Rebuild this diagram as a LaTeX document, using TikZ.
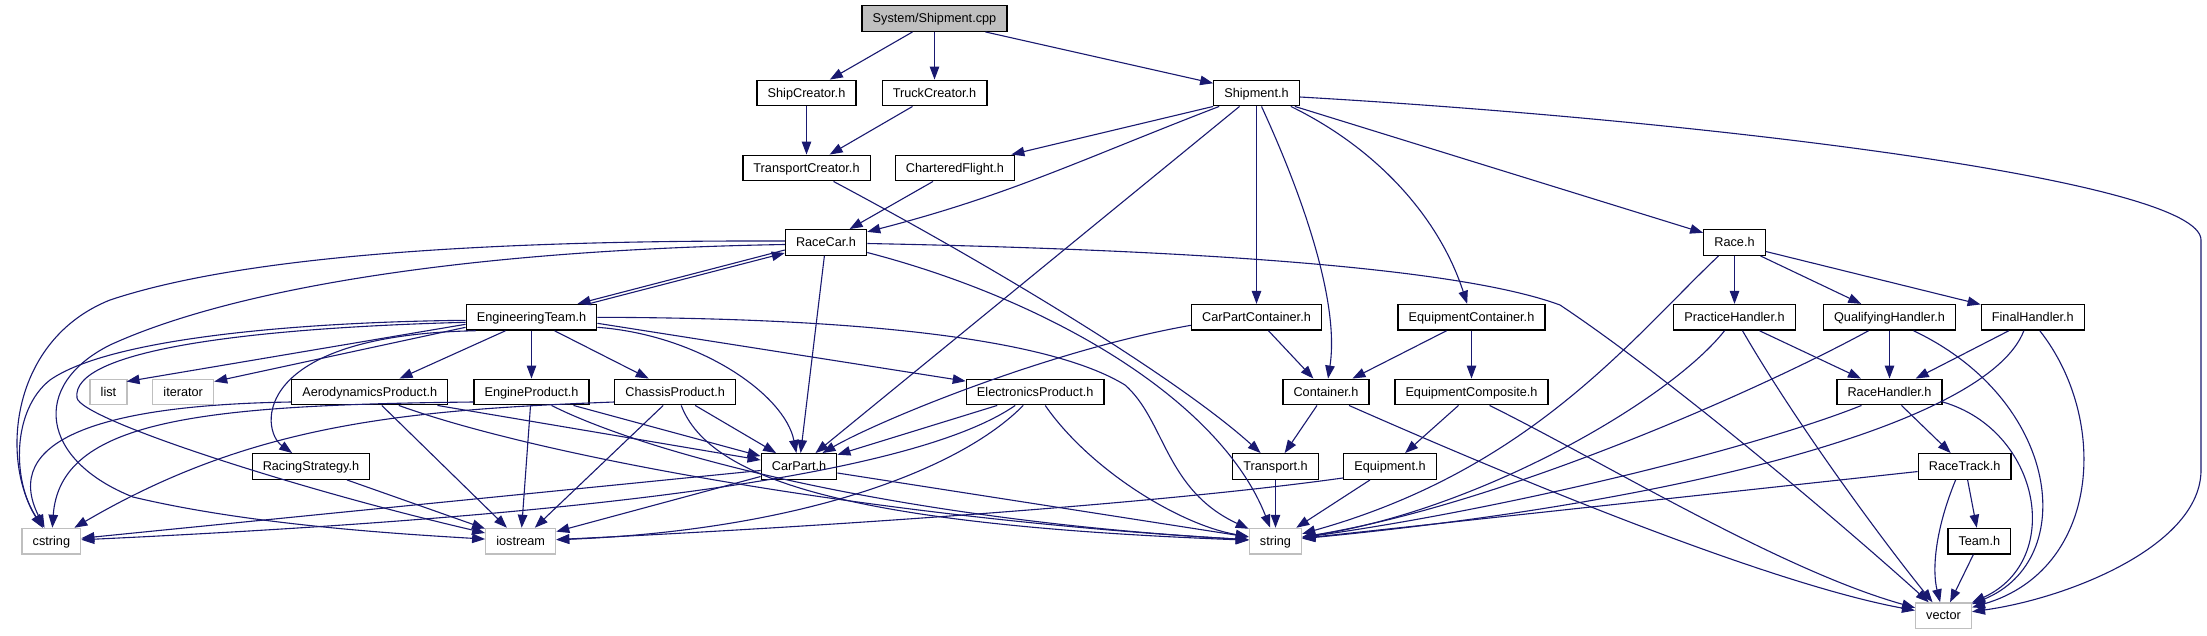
\documentclass[tikz,border=0pt]{standalone}
\usepackage{fontspec}
\setmainfont{Liberation Sans}
\usetikzlibrary{arrows.meta}
\definecolor{edgeblue}{HTML}{191970}
\definecolor{greyseventyfive}{HTML}{BFBFBF}
\begin{document}
\begin{tikzpicture}[x=1pt,y=-1pt,
  box/.style={draw=black,line width=1.3pt,fill=white,inner xsep=10.6pt,inner ysep=0pt,
    minimum height=25.6pt,text height=10.5pt,text depth=2pt,
    font=\fontsize{12.7}{14}\selectfont,text=black},
  ext/.style={box,draw=greyseventyfive},
  root/.style={box,fill=greyseventyfive},
  e/.style={draw=edgeblue,line width=1.1pt,-{Triangle[length=13pt,width=9.5pt]}}]
\fill[white] (0,0) rectangle (2207,635);
\useasboundingbox (0,0) rectangle (2207,635);

% nodes
\node[root] (cpp) at (934.5,18.5) {System/Shipment.cpp};
\node[box] (ship) at (806.5,93) {ShipCreator.h};
\node[box] (truck) at (934.5,93) {TruckCreator.h};
\node[box] (shiph) at (1256.5,93) {Shipment.h};
\node[box] (tc) at (806.5,168) {TransportCreator.h};
\node[box] (cf) at (955,168) {CharteredFlight.h};
\node[box] (racecar) at (826,242.5) {RaceCar.h};
\node[box] (race) at (1734.5,242.5) {Race.h};
\node[box] (et) at (531.5,317.3) {EngineeringTeam.h};
\node[box] (cpc) at (1256.5,317.3) {CarPartContainer.h};
\node[box] (ec) at (1471.5,317.3) {EquipmentContainer.h};
\node[box] (ph) at (1734.5,317.3) {PracticeHandler.h};
\node[box] (qh) at (1889.5,317.3) {QualifyingHandler.h};
\node[box] (fh) at (2032.8,317.3) {FinalHandler.h};
\node[ext] (list) at (108.5,392) {list};
\node[ext] (iter) at (183.2,392) {iterator};
\node[box] (aero) at (369.8,392) {AerodynamicsProduct.h};
\node[box] (eng) at (531.5,392) {EngineProduct.h};
\node[box] (chassis) at (675.2,392) {ChassisProduct.h};
\node[box] (elec) at (1035.2,392) {ElectronicsProduct.h};
\node[box] (cont) at (1326,392) {Container.h};
\node[box] (ecomp) at (1471.5,392) {EquipmentComposite.h};
\node[box] (rh) at (1889.5,392) {RaceHandler.h};
\node[box] (rs) at (311,466.5) {RacingStrategy.h};
\node[box] (carpart) at (799,466.5) {CarPart.h};
\node[box] (transport) at (1275.5,466.5) {Transport.h};
\node[box] (equip) at (1390,466.5) {Equipment.h};
\node[box] (rt) at (1964.6,466.5) {RaceTrack.h};
\node[ext] (cstr) at (51.4,541.2) {cstring};
\node[ext] (iost) at (520.7,541.2) {iostream};
\node[ext] (strg) at (1275.5,541.2) {string};
\node[box] (team) at (1979.3,541.2) {Team.h};
\node[ext] (vect) at (1943.5,615.7) {vector};

% System/Shipment.cpp
\draw[e] ([xshift=-22pt]cpp.south) -- (ship);
\draw[e] (cpp) -- (truck);
\draw[e] ([xshift=51pt]cpp.south) -- (shiph);
\draw[e] (ship) -- (tc);
\draw[e] ([xshift=-22pt]truck.south) -- (tc);
\draw[e] ([xshift=27pt]tc.south) .. controls (1000,270) and (1180,380) .. (transport);

% Shipment.h
\draw[e] (shiph.south west) -- (cf);
\draw[e] ([xshift=6pt]shiph.south west) .. controls (1080,160) and (1010,195) .. (racecar);
\draw[e] ([xshift=-17pt]shiph.south) -- (carpart);
\draw[e] (shiph) -- (cpc);
\draw[e] ([xshift=5pt]shiph.south) .. controls (1300,190) and (1340,300) .. (cont);
\draw[e] ([xshift=-9pt]shiph.south east) .. controls (1380,150) and (1440,220) .. (ec);
\draw[e] ([xshift=-5pt]shiph.south east) -- (race);
\draw[e] ([yshift=-4pt]shiph.east) .. controls (1700,120) and (2201,180) .. (2201,240) -- (2201,470) .. controls (2201,545) and (2070,598) .. (vect);

\draw[e] ([xshift=-22pt]cf.south) -- (racecar);

% RaceCar.h
\draw[e] ([yshift=-7.5pt]racecar.west) -- ([xshift=46pt]et.north);
\draw[e] ([xshift=57pt]et.north) -- ([yshift=-10.5pt]racecar.west);
\draw[e] (racecar) -- (carpart);
\draw[e] ([yshift=-10pt]racecar.east) .. controls (1050,300) and (1220,400) .. (strg);
\draw[e] ([yshift=-1pt]racecar.east) .. controls (1200,250) and (1460,268) .. (1560,305) .. controls (1680,385) and (1860,540) .. (vect);
\draw[e] ([yshift=1.5pt]racecar.west) .. controls (450,240) and (230,260) .. (110,300) .. controls (10,340) and (0,460) .. (cstr);
\draw[e] ([yshift=-2pt]racecar.west) .. controls (460,250) and (230,290) .. (110,345) .. controls (30,385) and (40,460) .. (133,497) .. controls (250,525) and (400,534) .. (iost);

% EngineeringTeam.h
\draw[e] ([yshift=-7pt]et.west) -- ([xshift=-1pt,yshift=-3pt]list.north east);
\draw[e] ([yshift=-10pt]et.west) -- ([yshift=-3pt]iter.north east);
\draw[e] ([xshift=-26pt]et.south) -- (aero);
\draw[e] (et) -- (eng);
\draw[e] ([xshift=23pt]et.south) -- (chassis);
\draw[e] ([yshift=-6pt]et.east) -- (elec);
\draw[e] ([yshift=-10pt]et.east) .. controls (700,335) and (785,395) .. (carpart);
\draw[e] (et.east) .. controls (900,318) and (1060,345) .. (1125,385) .. controls (1165,420) and (1165,490) .. (strg);
\draw[e] ([yshift=-3pt]et.west) .. controls (300,322) and (110,338) .. (50,380) .. controls (12,410) and (12,480) .. (cstr);
\draw[e] ([yshift=-5pt]et.west) .. controls (250,328) and (70,350) .. (77,398) .. controls (82,420) and (300,490) .. (iost);
\draw[e] ([xshift=10pt]et.south west) .. controls (250,335) and (260,430) .. (rs);

% AerodynamicsProduct.h
\draw[e] ([yshift=-10pt]aero.west) .. controls (100,405) and (0,440) .. (cstr);
\draw[e] ([xshift=12pt]aero.south) -- (iost);
\draw[e] ([xshift=29pt]aero.south) .. controls (550,460) and (900,520) .. (strg);
\draw[e] ([xshift=-11pt]aero.south east) -- (carpart);

% EngineProduct.h
\draw[e] ([yshift=-10pt]eng.west) .. controls (200,405) and (60,420) .. (cstr);
\draw[e] (eng) -- (iost);
\draw[e] ([xshift=20pt]eng.south) .. controls (650,455) and (900,520) .. (strg);
\draw[e] ([xshift=42pt]eng.south) -- (carpart);

% ChassisProduct.h
\draw[e] ([yshift=-10pt]chassis.west) .. controls (400,410) and (250,425) .. (cstr);
\draw[e] ([xshift=-12pt]chassis.south) -- (iost);
\draw[e] ([xshift=6pt]chassis.south) .. controls (710,480) and (850,525) .. (strg);
\draw[e] ([xshift=20pt]chassis.south) -- (carpart);

% ElectronicsProduct.h
\draw[e] ([xshift=-38pt]elec.south) -- (carpart);
\draw[e] ([xshift=-20pt]elec.south) .. controls (900,485) and (500,520) .. (cstr);
\draw[e] ([xshift=-12pt]elec.south) .. controls (960,470) and (800,530) .. (iost);
\draw[e] ([xshift=10pt]elec.south) .. controls (1090,470) and (1180,525) .. (strg);

% CarPart.h
\draw[e] ([yshift=-4pt]carpart.west) -- (cstr);
\draw[e] ([yshift=-10pt]carpart.west) -- (iost);
\draw[e] ([yshift=-6.5pt]carpart.east) -- (strg);

\draw[e] ([xshift=36pt]rs.south) -- (iost);

% containers
\draw[e] ([xshift=12pt]cpc.south) -- (cont);
\draw[e] ([yshift=-8pt]cpc.west) .. controls (1050,350) and (880,420) .. (carpart);
\draw[e] ([xshift=-9pt]cont.south) -- (transport);
\draw[e] ([xshift=23pt]cont.south) .. controls (1450,450) and (1750,580) .. (vect);
\draw[e] (transport) -- (strg);
\draw[e] ([xshift=-25pt]ec.south) -- (cont);
\draw[e] (ec) -- (ecomp);
\draw[e] ([xshift=-13pt]ecomp.south) -- (equip);
\draw[e] ([xshift=18pt]ecomp.south) .. controls (1600,460) and (1780,570) .. (vect);
\draw[e] ([xshift=-20pt]equip.south) -- (strg);
\draw[e] ([yshift=2pt]equip.south west) .. controls (1150,505) and (800,528) .. (iost);

% Race.h
\draw[e] (race) -- (ph);
\draw[e] ([xshift=26pt]race.south) -- (qh);
\draw[e] ([yshift=-9pt]race.east) -- (fh);
\draw[e] ([xshift=-16pt]race.south) .. controls (1630,340) and (1530,470) .. (strg);

% handlers
\draw[e] ([xshift=25pt]ph.south) -- (rh);
\draw[e] ([xshift=-10pt]ph.south) .. controls (1670,400) and (1480,510) .. (strg);
\draw[e] ([xshift=8pt]ph.south) .. controls (1800,430) and (1890,550) .. (vect);
\draw[e] (qh) -- (rh);
\draw[e] ([xshift=-21pt]qh.south) .. controls (1760,390) and (1500,505) .. (strg);
\draw[e] ([xshift=24pt]qh.south) .. controls (2060,400) and (2080,560) .. (vect);
\draw[e] ([xshift=-24pt]fh.south) -- (rh);
\draw[e] ([xshift=-9pt]fh.south) .. controls (1990,420) and (1700,500) .. (strg);
\draw[e] ([xshift=7pt]fh.south) .. controls (2110,420) and (2100,570) .. (vect);
\draw[e] ([xshift=12pt]rh.south) -- (rt);
\draw[e] ([xshift=-28pt]rh.south) .. controls (1750,450) and (1500,510) .. (strg);
\draw[e] ([yshift=-10pt]rh.east) .. controls (2040,430) and (2065,560) .. (vect);
\draw[e] ([xshift=3pt]rt.south) -- (team);
\draw[e] (rt) -- (strg);
\draw[e] ([xshift=-9pt]rt.south) .. controls (1935,530) and (1932,570) .. (vect);
\draw[e] ([xshift=-6pt]team.south) -- (vect);
\end{tikzpicture}
\end{document}
